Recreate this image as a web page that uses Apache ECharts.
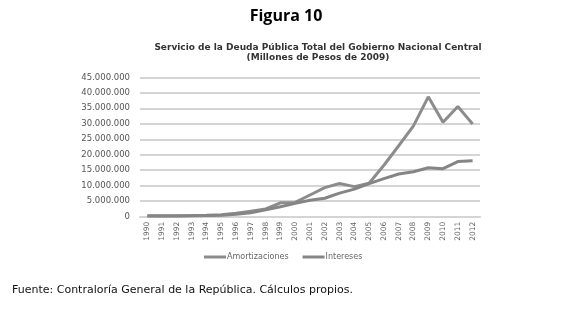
<!DOCTYPE html>
<html>
<head>
<meta charset="utf-8">
<script src="https://cdn.jsdelivr.net/npm/echarts@6/dist/echarts.min.js"></script>
<style>
html,body{margin:0;padding:0;background:#fff;}
#c{width:580px;height:314px;}
</style>
</head>
<body>
<div id="c"></div>
<script>
const years = ['1990','1991','1992','1993','1994','1995','1996','1997','1998','1999','2000','2001','2002','2003','2004','2005','2006','2007','2008','2009','2010','2011','2012'];
const amortizaciones = [300000,300000,300000,350000,450000,600000,1100000,1800000,2500000,4500000,4600000,7000000,9400000,10700000,9700000,10800000,16600000,22900000,29300000,38700000,30500000,35600000,29900000];
const intereses = [200000,200000,250000,300000,350000,450000,800000,1300000,2200000,3200000,4300000,5300000,5950000,7600000,8900000,10700000,12300000,13800000,14500000,15800000,15500000,17800000,18100000];
const yTicks = {min:0, max:45000000, interval:5000000};
const mainTitle = 'Figura 10';
const chartTitle = 'Servicio de la Deuda Pública Total del Gobierno Nacional Central\n(Millones de Pesos de 2009)';
const footer = 'Fuente: Contraloría General de la República. Cálculos propios.';

function fmt(v){ return String(v).replace(/\B(?=(\d{3})+(?!\d))/g,'.'); }

const chart = echarts.init(document.getElementById('c'), null, {renderer:'canvas'});
chart.setOption({
  backgroundColor:'#fff',
  animation:false,
  title:[
    {text:mainTitle, left:281, top:3, textAlign:'center',
     textStyle:{fontFamily:'Open Sans', fontWeight:'bold', fontSize:16, color:'#000'}},
    {text:chartTitle, left:313, top:37, textAlign:'center',
     textStyle:{fontFamily:'DejaVu Sans', fontWeight:'bold', fontSize:9, color:'#333', lineHeight:10.5}}
  ],
  grid:{left:140, right:100, top:77.3, bottom:97.3, containLabel:false},
  legend:{
    top:248, left:199, icon:'rect', itemWidth:22, itemHeight:3, itemGap:14,
    textStyle:{fontFamily:'DejaVu Sans', fontSize:8, color:'#666', padding:[0,0,0,-4]},
    data:['Amortizaciones','Intereses']
  },
  xAxis:{
    type:'category', data:years, boundaryGap:true,
    axisLine:{show:true, lineStyle:{color:'#d4d4d4', width:2}},
    axisTick:{show:false},
    axisLabel:{rotate:90, fontFamily:'DejaVu Sans', fontSize:7.5, color:'#666', margin:5, interval:0}
  },
  yAxis:{
    type:'value', min:yTicks.min, max:yTicks.max, interval:yTicks.interval,
    axisLine:{show:false}, axisTick:{show:false},
    splitLine:{lineStyle:{color:'#d4d4d4', width:2}},
    axisLabel:{formatter:fmt, fontFamily:'DejaVu Sans', fontSize:8.5, color:'#555', margin:10}
  },
  series:[
    {name:'Amortizaciones', type:'line', data:amortizaciones, symbol:'none',
     lineStyle:{color:'#8c8c8c', width:3}, itemStyle:{color:'#8c8c8c'}},
    {name:'Intereses', type:'line', data:intereses, symbol:'none',
     lineStyle:{color:'#858585', width:3}, itemStyle:{color:'#858585'}}
  ],
  graphic:[
    {type:'text', left:12, top:285,
     style:{text:footer, fontFamily:'DejaVu Sans', fontSize:11, fill:'#111'}}
  ]
});
</script>
</body>
</html>
